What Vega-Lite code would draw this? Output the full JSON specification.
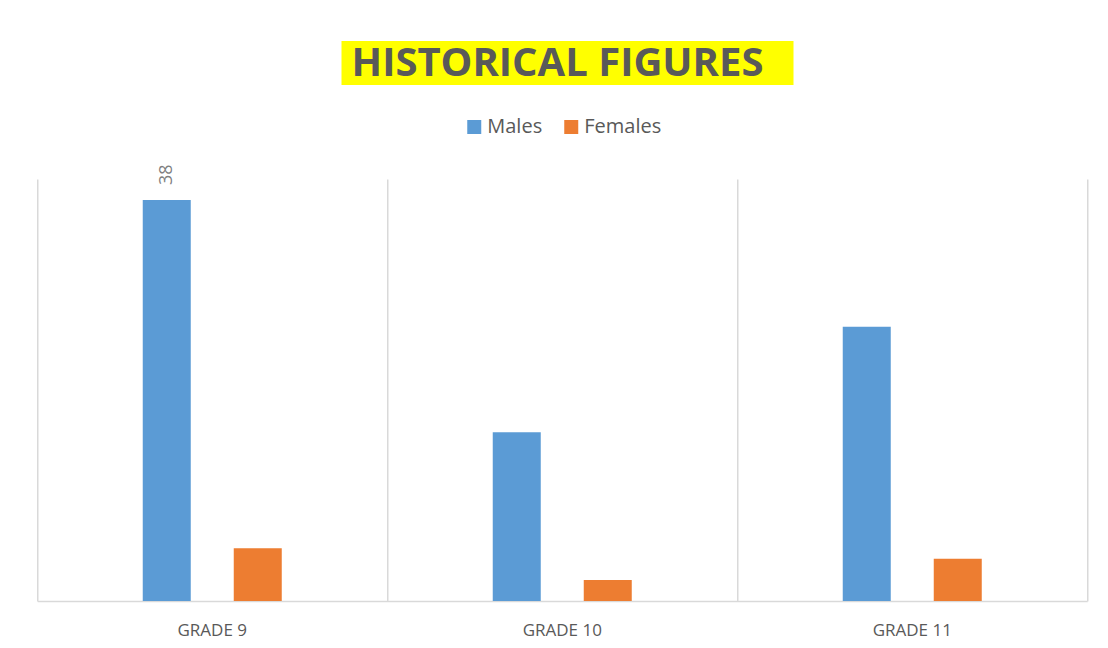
{
  "$schema": "https://vega.github.io/schema/vega-lite/v6.json",
  "padding": {"left": 37, "top": 41, "right": 11, "bottom": 8},
  "background": "white",
  "config": {
    "font": "Open Sans",
    "view": {"stroke": null}
  },
  "spacing": 32,
  "center": true,
  "resolve": {"scale": {"color": "independent"}, "legend": {"color": "independent"}},
  "vconcat": [
    {
      "width": 452,
      "height": 44,
      "view": {"fill": "#FFFF00", "stroke": null},
      "data": {"values": [{"title": "HISTORICAL FIGURES"}]},
      "mark": {"type": "text", "font": "Open Sans", "fontWeight": "bold", "fontSize": 40, "color": "#595959", "dx": -10, "dy": 1},
      "encoding": {"text": {"field": "title", "type": "nominal"}}
    },
    {
      "width": 1050,
      "height": 422,
      "data": {
        "values": [
          {"grade": "GRADE 9", "sex": "Males", "value": 38},
          {"grade": "GRADE 9", "sex": "Females", "value": 5},
          {"grade": "GRADE 10", "sex": "Males", "value": 16},
          {"grade": "GRADE 10", "sex": "Females", "value": 2},
          {"grade": "GRADE 11", "sex": "Males", "value": 26},
          {"grade": "GRADE 11", "sex": "Females", "value": 4}
        ]
      },
      "encoding": {
        "x": {
          "field": "grade", "type": "nominal", "sort": ["GRADE 9", "GRADE 10", "GRADE 11"],
          "scale": {"paddingInner": 0, "paddingOuter": 0},
          "axis": {
            "title": null, "labelAngle": 0, "ticks": false, "labelPadding": 21,
            "labelFont": "Open Sans", "labelFontSize": 17, "labelColor": "#595959",
            "domainColor": "#D9D9D9", "domainWidth": 1.5,
            "grid": true, "gridColor": "#D9D9D9", "gridWidth": 1.5, "bandPosition": 0
          }
        },
        "xOffset": {"field": "sex", "type": "nominal", "sort": ["Males", "Females"], "scale": {"paddingInner": 0.154, "paddingOuter": 1}},
        "y": {
          "field": "value", "type": "quantitative",
          "scale": {"domain": [0, 40], "nice": false},
          "axis": {"orient": "right", "title": null, "labels": false, "ticks": true, "tickSize": 10, "tickColor": "#FFFFFF", "grid": false, "domain": true, "domainColor": "#D9D9D9", "domainWidth": 1.5}
        }
      },
      "layer": [
        {
          "mark": {"type": "bar", "width": 48},
          "encoding": {
            "color": {
              "field": "sex", "type": "nominal",
              "scale": {"domain": ["Males", "Females"], "range": ["#5B9BD5", "#ED7D31"]},
              "legend": {
                "orient": "none", "legendX": 427, "legendY": -62, "direction": "horizontal",
                "title": null, "symbolType": "square", "symbolSize": 196,
                "symbolStrokeWidth": 0, "labelFont": "Open Sans", "labelFontSize": 20, "labelColor": "#595959",
                "labelOffset": 3, "columnPadding": 19
              }
            }
          }
        },
        {
          "transform": [{"filter": "datum.grade === 'GRADE 9' && datum.sex === 'Males'"}],
          "mark": {"type": "text", "angle": 270, "align": "left", "baseline": "middle", "dx": 15, "fontSize": 18, "color": "#7F7F7F", "font": "Open Sans"},
          "encoding": {"text": {"field": "value", "type": "quantitative"}}
        }
      ]
    }
  ]
}
